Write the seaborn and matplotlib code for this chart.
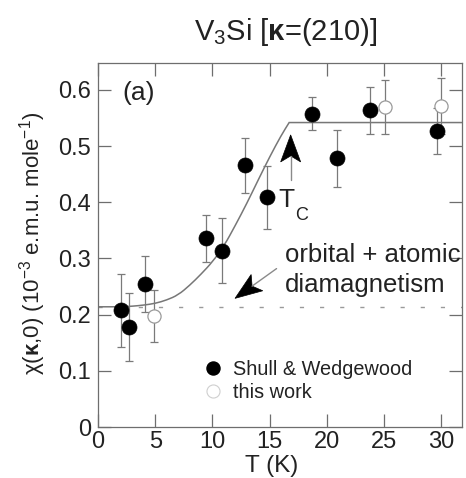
import numpy as np
import pandas as pd
import matplotlib
matplotlib.use("Agg")
import matplotlib.pyplot as plt
import seaborn as sns
from matplotlib.patches import Polygon, PathPatch
from matplotlib.path import Path
from matplotlib.lines import Line2D
from matplotlib.transforms import IdentityTransform

# Shull & Wedgewood neutron data: temperature (K), chi (1e-3 emu/mole), error
sw_T = [2.0, 2.7, 4.1, 9.4, 10.8, 12.8, 14.8, 18.7, 20.9, 23.8, 29.6]
sw_chi = [0.208, 0.178, 0.254, 0.336, 0.314, 0.466, 0.409, 0.558, 0.478, 0.564, 0.527]
sw_err = [0.065, 0.061, 0.050, 0.042, 0.058, 0.049, 0.056, 0.030, 0.050, 0.042, 0.041]

# this work
tw_T = [4.9, 25.1, 30.0]
tw_chi = [0.198, 0.570, 0.571]
tw_err = [0.046, 0.048, 0.050]

# spin-susceptibility curve (normal state above Tc)
curve_T = [0, 2, 3, 4, 5, 6, 7, 8, 9, 10, 11, 12, 13, 14, 15, 16, 16.7, 32]
curve_chi = [0.214, 0.214, 0.215, 0.217, 0.220, 0.226, 0.235, 0.252, 0.272, 0.294,
             0.322, 0.359, 0.398, 0.440, 0.481, 0.519, 0.542, 0.542]

# orbital + atomic diamagnetic level
dia_level = 0.214

x_ticks = [0, 5, 10, 15, 20, 25, 30]
y_ticks = [0, 0.1, 0.2, 0.3, 0.4, 0.5, 0.6]
y_ticklabels = ["0", "0.1", "0.2", "0.3", "0.4", "0.5", "0.6"]

sns.set_style("ticks")
plt.rcParams["font.family"] = ["Liberation Sans", "DejaVu Sans"]
plt.rcParams["mathtext.fontset"] = "custom"
plt.rcParams["mathtext.rm"] = "Liberation Sans"
plt.rcParams["mathtext.it"] = "Liberation Sans:italic"
plt.rcParams["mathtext.bf"] = "Liberation Sans:bold"

W, H = 466, 478
fig = plt.figure(figsize=(W / 100, H / 100), dpi=100)
fig.patch.set_facecolor("white")
ax = fig.add_axes([98 / W, 51 / H, 364 / W, 364 / H])
ax.set_xlim(0, 31.8)
ax.set_ylim(0, 0.648)

grey = "#6e6e6e"
for s in ax.spines.values():
    s.set_color(grey)
    s.set_linewidth(0.9)
    s.set_visible(True)

ax.set_xticks(x_ticks)
ax.set_yticks(y_ticks)
ax.set_yticklabels(y_ticklabels)
ax.tick_params(direction="in", length=9.5, width=0.9, color=grey,
               top=True, right=True, labelsize=17, labelcolor="#222")
ax.tick_params(axis="x", pad=3)
ax.tick_params(axis="y", pad=5)

# diamagnetic baseline
ax.axhline(dia_level, color="#9a9a9a", lw=1.0, ls=(0, (3, 11.5)), zorder=1)

# model curve: smooth rise up to Tc, then flat normal-state value
pts = np.column_stack([curve_T, curve_chi])
rise = pts[:-1]
verts = [rise[0], (rise[0] + rise[1]) / 2]
codes = [Path.MOVETO, Path.LINETO]
for i in range(1, len(rise) - 1):
    verts += [rise[i], (rise[i] + rise[i + 1]) / 2]
    codes += [Path.CURVE3, Path.CURVE3]
verts += [rise[-1], pts[-1]]
codes += [Path.LINETO, Path.LINETO]
ax.add_patch(PathPatch(Path(verts, codes), facecolor="none",
                       edgecolor="#777777", lw=1.1, zorder=2))

# error bars
ax.errorbar(sw_T, sw_chi, yerr=sw_err, fmt="none", ecolor="#7a7a7a",
            elinewidth=0.9, capsize=3, capthick=0.9, zorder=3)
ax.errorbar(tw_T, tw_chi, yerr=tw_err, fmt="none", ecolor="#7a7a7a",
            elinewidth=0.9, capsize=3, capthick=0.9, zorder=3)

sw = pd.DataFrame({"T": sw_T, "chi": sw_chi})
tw = pd.DataFrame({"T": tw_T, "chi": tw_chi})
sns.scatterplot(data=sw, x="T", y="chi", ax=ax, s=117, color="black",
                edgecolor="black", linewidth=0.5, zorder=5)
sns.scatterplot(data=tw, x="T", y="chi", ax=ax, s=90, color="white",
                edgecolor="#9a9a9a", linewidth=0.9, zorder=5)

ax.set_xlabel("T (K)", fontsize=17.5, color="#222", va="bottom")
ax.xaxis.set_label_coords(0.478, -(477 - 427) / 364)
ax.set_ylabel(r"χ($\mathbf{κ}$,0) (10$^{-3}$ e.m.u. mole$^{-1}$)",
              fontsize=16, color="#222", va="center", ha="center")
ax.yaxis.set_label_coords(-0.181, 0.505)

# legend
handles = [
    Line2D([], [], ls="none", marker="o", ms=9.4, mfc="black", mec="black"),
    Line2D([], [], ls="none", marker="o", ms=9.4, mfc="white", mec="#cfcfcf", mew=0.8),
]
ax.legend(handles, ["Shull & Wedgewood", "this work"], loc="upper left",
          bbox_to_anchor=(0.2945, 0.185), frameon=False, fontsize=14.3,
          handlelength=0.8, handletextpad=0.6, labelspacing=0.22,
          borderpad=0, borderaxespad=0, labelcolor="#222")

# annotations
ax.text(2.1, 0.594, "(a)", fontsize=19, ha="left", va="center", color="#222")
ax.text(15.72, 0.391, "T", fontsize=19, ha="left", va="baseline", color="#222")
ax.text(17.2, 0.368, "C", fontsize=13, ha="left", va="baseline", color="#222")
ax.text(16.33, 0.294, "orbital + atomic", fontsize=18.5, ha="left",
        va="baseline", color="#222")
ax.text(16.33, 0.241, "diamagnetism", fontsize=18.5, ha="left",
        va="baseline", color="#222")

fig.text(286 / W, 1 - 40 / H, r"V$_3$Si [$\mathbf{κ}$=(210)]", fontsize=21,
         ha="center", va="baseline", color="#222")


def dart(tip, tail, length=27, half_width=10, notch=21):
    """Arrow with a notched (dart-shaped) head, head size in pixels."""
    p_tip = ax.transData.transform(tip)
    p_tail = ax.transData.transform(tail)
    d = p_tail - p_tip
    d = d / np.hypot(*d)
    n = np.array([-d[1], d[0]])
    verts = [p_tip, p_tip + d * length + n * half_width,
             p_tip + d * notch, p_tip + d * length - n * half_width]
    p_notch = p_tip + d * notch
    fig.add_artist(Line2D([p_notch[0], p_tail[0]], [p_notch[1], p_tail[1]],
                          color="#8a8a8a", lw=1.0, transform=IdentityTransform()))
    fig.add_artist(Polygon(verts, closed=True, facecolor="black",
                           edgecolor="black", lw=0.5, transform=IdentityTransform()))


dart((16.83, 0.520), (16.83, 0.439))
dart((11.97, 0.229), (15.6, 0.282))

fig.savefig("out.png", dpi=100, facecolor="white")
